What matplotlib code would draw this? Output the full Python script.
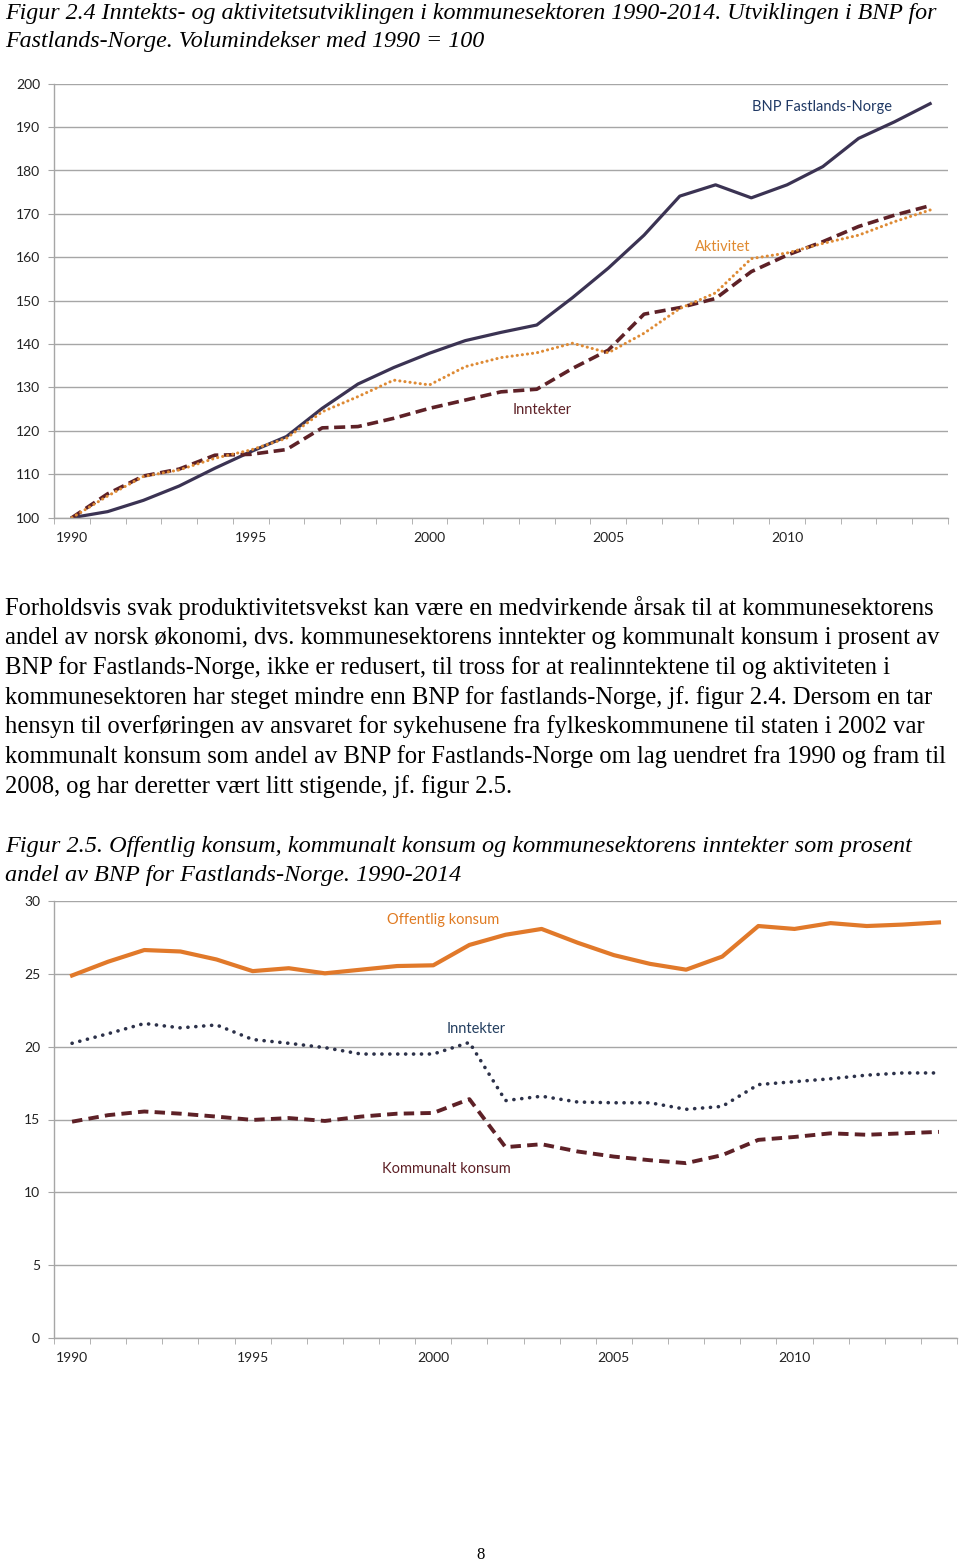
import matplotlib
matplotlib.use('Agg')
import matplotlib.pyplot as plt

# DATA
years = list(range(1990, 2015))

# Figur 2.4 - volumindekser, 1990 = 100
bnp = [100, 101.4, 104, 107.3, 111.4, 115.2, 118.7, 125.2, 130.8, 134.6, 137.9, 140.8,
       142.7, 144.4, 150.7, 157.5, 165.1, 174.1, 176.7, 173.7, 176.7, 180.9, 187.4, 191.2, 195.4]
inntekter = [100, 105.5, 109.6, 111.2, 114.4, 114.6, 115.7, 120.7, 121, 122.9, 125.2, 127.1,
             129, 129.6, 134.4, 138.6, 146.9, 148.4, 150.5, 156.7, 160.5, 163.6, 167.1, 169.7, 171.9]
aktivitet = [100, 105, 109.5, 111, 113.7, 115.6, 118.3, 124.4, 127.9, 131.7, 130.6, 134.8,
             136.9, 138, 140.2, 138, 142.5, 148.2, 151.8, 159.7, 161, 163.2, 165.1, 168.2, 170.9]

# Figur 2.5 - prosent av BNP Fastlands-Norge
offentlig = [24.9, 25.85, 26.65, 26.55, 26.0, 25.2, 25.4, 25.05, 25.3, 25.55, 25.6, 27.0,
             27.7, 28.1, 27.15, 26.3, 25.7, 25.3, 26.2, 28.3, 28.1, 28.5, 28.3, 28.4, 28.55]
innt_andel = [20.24, 20.9, 21.6, 21.3, 21.5, 20.5, 20.24, 19.94, 19.5, 19.5, 19.5, 20.3,
              16.3, 16.6, 16.2, 16.15, 16.15, 15.7, 15.9, 17.4, 17.6, 17.8, 18.05, 18.2, 18.2]
kommunalt = [14.85, 15.3, 15.55, 15.4, 15.2, 14.97, 15.1, 14.9, 15.2, 15.4, 15.45, 16.4,
             13.1, 13.3, 12.8, 12.45, 12.2, 12.0, 12.55, 13.6, 13.8, 14.05, 13.95, 14.05, 14.15]

title1 = ['Figur 2.4 Inntekts- og aktivitetsutviklingen i kommunesektoren 1990-2014. Utviklingen i BNP for',
          'Fastlands-Norge. Volumindekser med 1990 = 100']
body = ['Forholdsvis svak produktivitetsvekst kan være en medvirkende årsak til at kommunesektorens',
        'andel av norsk økonomi, dvs. kommunesektorens inntekter og kommunalt konsum i prosent av',
        'BNP for Fastlands-Norge, ikke er redusert, til tross for at realinntektene til og aktiviteten i',
        'kommunesektoren har steget mindre enn BNP for fastlands-Norge, jf. figur 2.4. Dersom en tar',
        'hensyn til overføringen av ansvaret for sykehusene fra fylkeskommunene til staten i 2002 var',
        'kommunalt konsum som andel av BNP for Fastlands-Norge om lag uendret fra 1990 og fram til',
        '2008, og har deretter vært litt stigende, jf. figur 2.5.']
title2 = ['Figur 2.5. Offentlig konsum, kommunalt konsum og kommunesektorens inntekter som prosent',
          'andel av BNP for Fastlands-Norge. 1990-2014']

navy = '#3b3353'
maroon = '#5e2127'
orange_dot = '#de8a34'
orange = '#e1792a'
grid_col = '#a6a6a6'
tick_font = 'Lato'
serif = 'Liberation Serif'

plt.rcParams['lines.scale_dashes'] = False

H = 1564.0
fig = plt.figure(figsize=(9.6, 15.64), dpi=100)


def fy(y):
    return 1 - y / H


def style_axis(ax, ymin, ymax, ystep):
    x = list(range(len(years)))
    ax.set_xlim(-0.5, len(years) - 0.5)
    ax.set_ylim(ymin, ymax)
    ax.set_yticks(range(ymin, ymax + 1, ystep))
    ax.set_xticks(x[::5])
    ax.set_xticklabels([str(y) for y in years[::5]])
    ax.set_xticks([i - 0.5 for i in range(len(years) + 1)], minor=True)
    ax.tick_params(axis='x', which='major', length=0, pad=10, labelsize=10, labelcolor='#222222')
    ax.tick_params(axis='x', which='minor', length=4, color=grid_col, direction='out')
    ax.tick_params(axis='y', length=4, color=grid_col, labelsize=10, labelcolor='#222222', pad=6)
    for lab in ax.get_xticklabels() + ax.get_yticklabels():
        lab.set_family(tick_font)
    ax.grid(axis='y', color=grid_col, linewidth=1)
    ax.set_axisbelow(True)
    for s in ['top', 'right']:
        ax.spines[s].set_visible(False)
    for s in ['left', 'bottom']:
        ax.spines[s].set_color(grid_col)
        ax.spines[s].set_linewidth(1)


x = list(range(len(years)))

# Figur 2.4
ax1 = fig.add_axes([54 / 960, fy(517.7), (948 - 54) / 960, (517.7 - 83.7) / H])
style_axis(ax1, 100, 200, 10)
ax1.plot(x, bnp, color=navy, linewidth=2.3)
ax1.plot(x, inntekter, color=maroon, linewidth=2.6, linestyle=(0, (8, 4)))
ax1.plot(x, aktivitet, color=orange_dot, linewidth=2.2, linestyle=(0, (0.1, 3.6)),
         dash_capstyle='round')
fig.text(752 / 960, fy(107), 'BNP Fastlands-Norge', fontsize=10.5, family=tick_font,
         color='#1f3864', va='center')
fig.text(695 / 960, fy(247), 'Aktivitet', fontsize=10.5, family=tick_font, color='#e08a30', va='center')
fig.text(513 / 960, fy(410), 'Inntekter', fontsize=10.5, family=tick_font, color='#5e2127', va='center')

# Figur 2.5
ax2 = fig.add_axes([54 / 960, fy(1337.7), (957 - 54) / 960, (1337.7 - 901.3) / H])
style_axis(ax2, 0, 30, 5)
ax2.plot(x, offentlig, color=orange, linewidth=3)
ax2.plot(x, innt_andel, color='#2c3149', linewidth=2.6, linestyle=(0, (0.1, 5.6)),
         dash_capstyle='round')
ax2.plot(x, kommunalt, color=maroon, linewidth=2.8, linestyle=(0, (7.5, 4.5)))
fig.text(387 / 960, fy(920), 'Offentlig konsum', fontsize=10.5, family=tick_font, color='#e07b22', va='center')
fig.text(447 / 960, fy(1029), 'Inntekter', fontsize=10.5, family=tick_font, color='#243f60', va='center')
fig.text(382 / 960, fy(1169), 'Kommunalt konsum', fontsize=10.5, family=tick_font, color='#5e2127', va='center')

# text on the page
for i, line in enumerate(title1):
    fig.text(5 / 960, fy(13 + 29 * i), line, fontsize=17.3, family=serif, style='italic', va='center')
for i, line in enumerate(body):
    fig.text(5 / 960, fy(608 + 29.7 * i), line, fontsize=17.7, family=serif, va='center')
for i, line in enumerate(title2):
    fig.text(5 / 960, fy(846 + 30 * i), line, fontsize=17.5, family=serif, style='italic', va='center')
fig.text(481 / 960, fy(1555), '8', fontsize=12, family=serif, ha='center', va='center')

plt.savefig('out.png', dpi=100)
